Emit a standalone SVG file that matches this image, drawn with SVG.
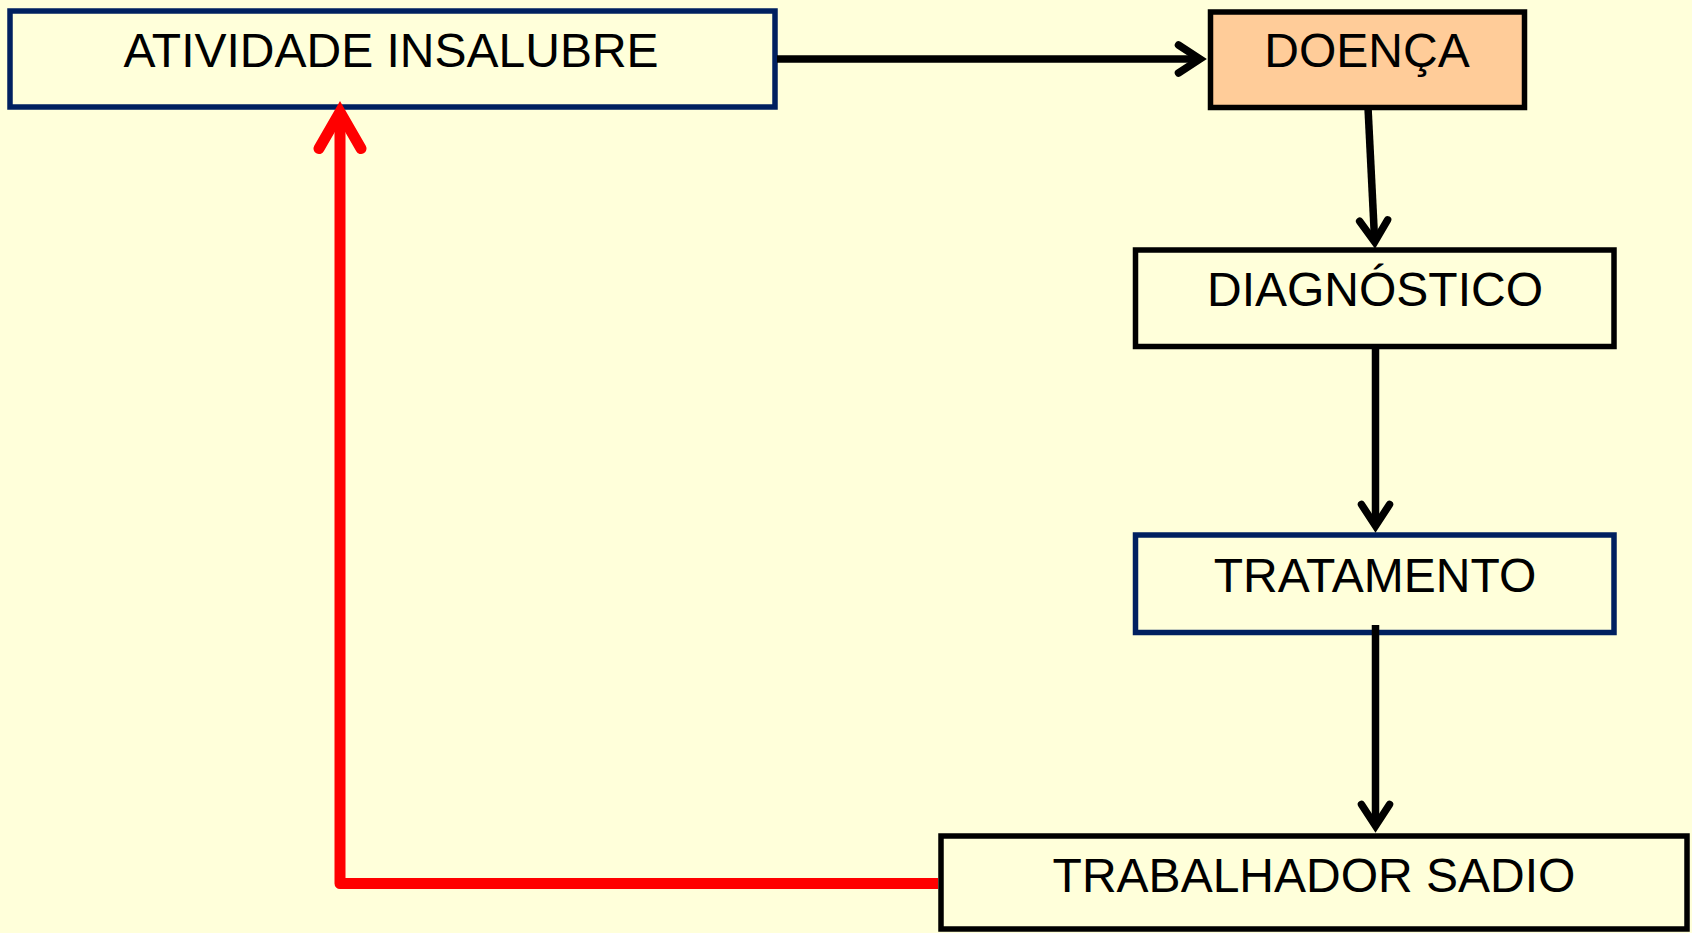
<svg xmlns="http://www.w3.org/2000/svg" width="1692" height="933" viewBox="0 0 1692 933">
<style>
.box{fill:#FFFFDA;stroke-width:5.5}
.navy{stroke:#002060}
.blk{stroke:#000000}
.peach{fill:#FFCC99}
.lbl{font-family:"Liberation Sans",Arial,sans-serif;font-size:48px;fill:#000000;text-anchor:middle}
.con{fill:none;stroke:#000000;stroke-width:7.5;stroke-linecap:butt}
.red{fill:none;stroke:#FF0000;stroke-width:11;stroke-linejoin:round;stroke-linecap:butt}
</style>
<defs>
<marker id="arrBlack" markerUnits="userSpaceOnUse" orient="auto" overflow="visible" markerWidth="40" markerHeight="40" refX="0" refY="0">
<path d="M-21.5,-14 L0,0 L-21.5,14" fill="none" stroke="#000000" stroke-width="7.5" stroke-linecap="round" stroke-linejoin="miter" stroke-miterlimit="10"/>
</marker>
<marker id="arrRed" markerUnits="userSpaceOnUse" orient="auto" overflow="visible" markerWidth="60" markerHeight="60" refX="0" refY="0">
<path d="M-36.6,-21 L0,0 L-36.6,21" fill="none" stroke="#FF0000" stroke-width="11" stroke-linecap="round" stroke-linejoin="miter" stroke-miterlimit="10"/>
</marker>
</defs>
<rect x="0" y="0" width="1692" height="933" fill="#FFFFDA"/>
<g id="node-atividade">
<rect class="box navy" x="10" y="11" width="765" height="96"/>
<text class="lbl" x="391" y="67">ATIVIDADE INSALUBRE</text>
</g>
<g id="node-doenca">
<rect class="box blk peach" x="1210.5" y="12" width="314" height="95.5"/>
<text class="lbl" x="1367" y="67">DOENÇA</text>
</g>
<g id="node-diagnostico">
<rect class="box blk" x="1135.5" y="250" width="478.5" height="96.5"/>
<text class="lbl" x="1375" y="306">DIAGNÓSTICO</text>
</g>
<g id="node-tratamento">
<rect class="box navy" x="1135.5" y="535" width="478.5" height="97.5"/>
<text class="lbl" x="1375" y="592">TRATAMENTO</text>
</g>
<g id="node-trabalhador">
<rect class="box blk" x="941" y="836" width="746" height="93"/>
<text class="lbl" x="1314" y="892">TRABALHADOR SADIO</text>
</g>
<g id="connectors">
<line class="con" x1="777" y1="59" x2="1200" y2="59" marker-end="url(#arrBlack)"/>
<line class="con" x1="1368" y1="107.5" x2="1374.7" y2="242" marker-end="url(#arrBlack)"/>
<line class="con" x1="1375.5" y1="346.5" x2="1375.5" y2="526" marker-end="url(#arrBlack)"/>
<line class="con" x1="1375.5" y1="625" x2="1375.5" y2="826" marker-end="url(#arrBlack)"/>
<path class="red" d="M938,883.5 L340,883.5 L340,112" marker-end="url(#arrRed)"/>
</g>
</svg>
